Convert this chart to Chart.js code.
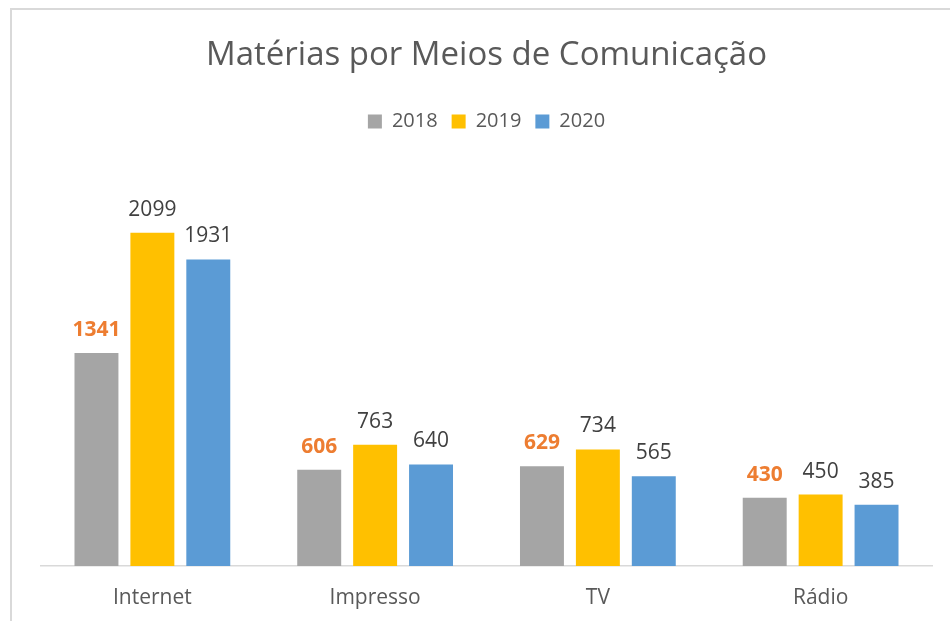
<!DOCTYPE html>
<html>
<head>
<meta charset="utf-8">
<script src="https://cdn.jsdelivr.net/npm/chart.js@4"></script>
<style>
html,body{margin:0;padding:0;background:#fff;overflow:hidden;}
#frame{position:absolute;left:10px;top:8px;width:1000px;height:700px;border:2px solid #d9d9d9;box-sizing:border-box;}
#wrap{position:absolute;left:0;top:0;width:950px;height:621px;}
</style>
</head>
<body>
<div id="frame"></div>
<div id="wrap"><canvas id="c" width="950" height="621"></canvas></div>
<script>
const categories = ["Internet", "Impresso", "TV", "Rádio"];
const seriesNames = ["2018", "2019", "2020"];
const values2018 = [1341, 606, 629, 430];
const values2019 = [2099, 763, 734, 450];
const values2020 = [1931, 640, 565, 385];
const colors = ["#A5A5A5", "#FFC000", "#5B9BD5"];

const labelPlugin = {
  id: 'valueLabels',
  afterDatasetsDraw(chart) {
    const ctx = chart.ctx;
    ctx.save();
    ctx.textAlign = 'center';
    ctx.textBaseline = 'alphabetic';
    chart.data.datasets.forEach((ds, i) => {
      const meta = chart.getDatasetMeta(i);
      meta.data.forEach((el, j) => {
        if (i === 0) {
          ctx.font = 'bold 21px "Open Sans"';
          ctx.fillStyle = '#ED7D31';
        } else {
          ctx.font = '21px "Open Sans"';
          ctx.fillStyle = '#404040';
        }
        ctx.fillText(String(ds.data[j]), el.x, el.y - 17);
      });
    });
    ctx.restore();
  }
};

new Chart(document.getElementById('c'), {
  type: 'bar',
  data: {
    labels: categories,
    datasets: [
      { label: seriesNames[0], data: values2018, backgroundColor: colors[0] },
      { label: seriesNames[1], data: values2019, backgroundColor: colors[1] },
      { label: seriesNames[2], data: values2020, backgroundColor: colors[2] }
    ]
  },
  options: {
    responsive: false,
    animation: false,
    devicePixelRatio: 1,
    layout: { padding: { left: 41, right: 18, top: 0, bottom: 0 } },
    datasets: { bar: { barPercentage: 0.786, categoryPercentage: 0.753 } },
    plugins: {
      title: {
        display: true,
        text: 'Matérias por Meios de Comunicação',
        color: '#595959',
        font: { family: 'Open Sans', size: 33, weight: 'normal' },
        padding: { top: 36, bottom: 22 }
      },
      legend: {
        display: true,
        labels: {
          color: '#595959',
          font: { family: 'Open Sans', size: 20 },
          boxWidth: 14,
          boxHeight: 14,
          padding: 14
        }
      },
      tooltip: { enabled: false }
    },
    scales: {
      x: {
        grid: { display: false, drawTicks: false, tickLength: 0 },
        border: { color: '#d9d9d9', width: 1.5 },
        ticks: { color: '#595959', font: { family: 'Open Sans', size: 21 }, padding: 19 },
        afterFit(scale) { scale.height = 55; }
      },
      y: { display: false, min: 0, max: 2673 }
    }
  },
  plugins: [labelPlugin]
});
</script>
</body>
</html>
